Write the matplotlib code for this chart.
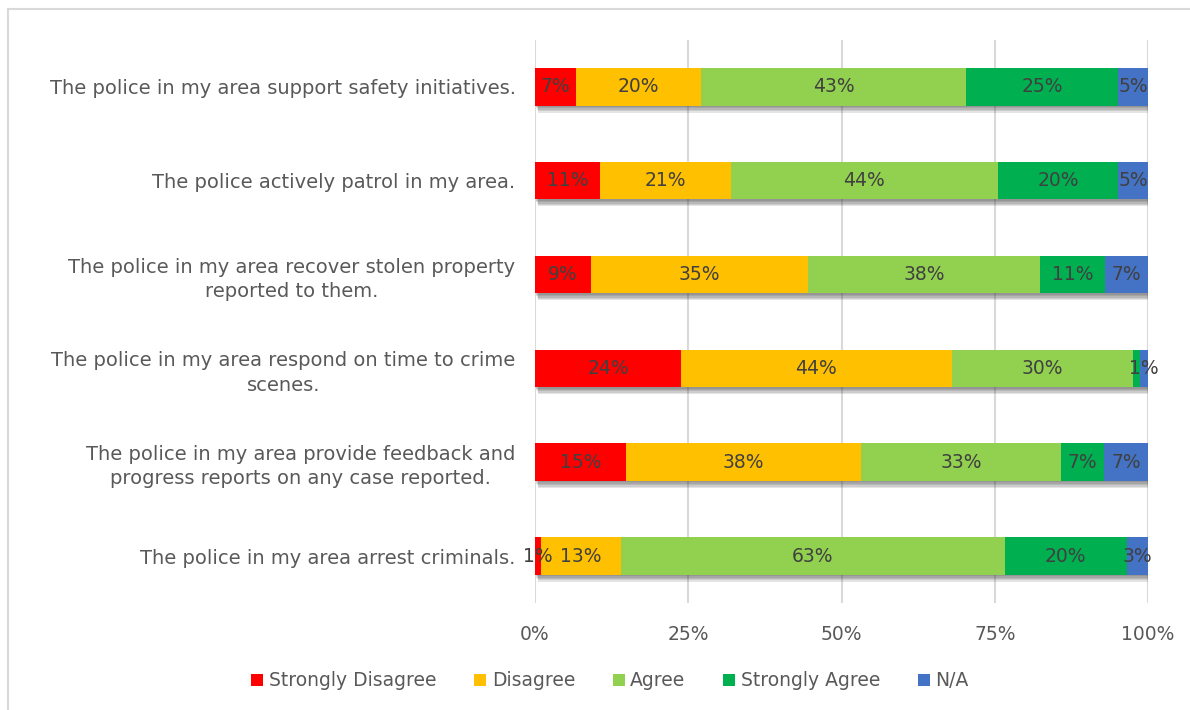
import matplotlib
matplotlib.use("Agg")
import matplotlib.pyplot as plt
import matplotlib.patheffects as pe
from matplotlib.patches import Rectangle
from matplotlib.ticker import PercentFormatter
import numpy as np

# Survey statements, listed bottom-to-top as drawn on the y axis
statements = [
    "The police in my area arrest criminals.",
    "The police in my area provide feedback and\nprogress reports on any case reported.",
    "The police in my area respond on time to crime\nscenes.",
    "The police in my area recover stolen property\nreported to them.",
    "The police actively patrol in my area.",
    "The police in my area support safety initiatives.",
]

responses = ["Strongly Disagree", "Disagree", "Agree", "Strongly Agree", "N/A"]
colors = ["#FF0000", "#FFC000", "#92D050", "#00B050", "#4472C4"]

# Share of respondents (%) per statement, same order as statements
strongly_disagree = [1.0, 14.8, 23.8, 9.1, 10.6, 6.7]
disagree = [13.0, 38.4, 44.2, 35.4, 21.3, 20.4]
agree = [62.6, 32.6, 29.6, 37.9, 43.6, 43.2]
strongly_agree = [20.0, 7.0, 1.1, 10.6, 19.6, 24.8]
not_applicable = [3.4, 7.2, 1.3, 7.0, 4.9, 4.9]

series = [strongly_disagree, disagree, agree, strongly_agree, not_applicable]

# (statement, response) pairs whose value label is left off
hidden_labels = {(2, 3)}

plt.rcParams["font.family"] = ["DejaVu Sans"]

fig = plt.figure(figsize=(11.9, 7.1), dpi=100)
ax = fig.add_axes([0.4496, 0.1507, 0.5151, 0.793])

# light frame around the chart area
fig.patches.append(Rectangle((8 / 1190, -0.05), 1.2, 1 - 9 / 710 + 0.05,
                             transform=fig.transFigure, fill=False,
                             edgecolor="#D9D9D9", linewidth=1.5, zorder=0))

# soft drop shadow under the bars
shadow = [pe.SimplePatchShadow(offset=(dx, dy), shadow_rgbFace="#303030", alpha=0.13)
          for dx, dy in [(0.5, -1), (1, -2), (1.5, -3), (2, -4), (2.5, -5)]]
shadow.append(pe.Normal())

y = np.arange(len(statements))
left = np.zeros(len(statements))
for j, (name, vals, col) in enumerate(zip(responses, series, colors)):
    vals = np.array(vals)
    bars = ax.barh(y, vals, left=left, height=0.4, color=col, label=name,
                   zorder=3, path_effects=shadow)
    for i, (b, v) in enumerate(zip(bars, vals)):
        if (i, j) in hidden_labels:
            continue
        ax.text(b.get_x() + b.get_width() / 2, b.get_y() + b.get_height() / 2,
                f"{v:.0f}%", ha="center", va="center", fontsize=13.5,
                color="#404040", zorder=5)
    left += vals

ax.set_xlim(0, 100)
ax.set_ylim(-0.5, len(statements) - 0.5)
ax.set_xticks([0, 25, 50, 75, 100])
ax.xaxis.set_major_formatter(PercentFormatter(decimals=0))
ax.set_yticks(y)
ax.set_yticklabels(statements, multialignment="center", linespacing=1.35)
ax.tick_params(axis="both", length=0, labelsize=13.5, labelcolor="#595959")
ax.tick_params(axis="y", labelsize=14, pad=14)
ax.tick_params(axis="x", pad=16)
ax.grid(axis="x", color="#D9D9D9", linewidth=1.5, zorder=0)
for s in ax.spines.values():
    s.set_visible(False)

leg = ax.legend(loc="center", bbox_to_anchor=(610 / 1190, 1 - 681 / 710),
                bbox_transform=fig.transFigure, ncol=5, frameon=False,
                fontsize=13.5, labelcolor="#595959", handlelength=0.65,
                handleheight=0.65, handletextpad=0.3, columnspacing=2.0)
for h in leg.legend_handles:
    h.set_path_effects([])

fig.savefig("out.png", dpi=100)
